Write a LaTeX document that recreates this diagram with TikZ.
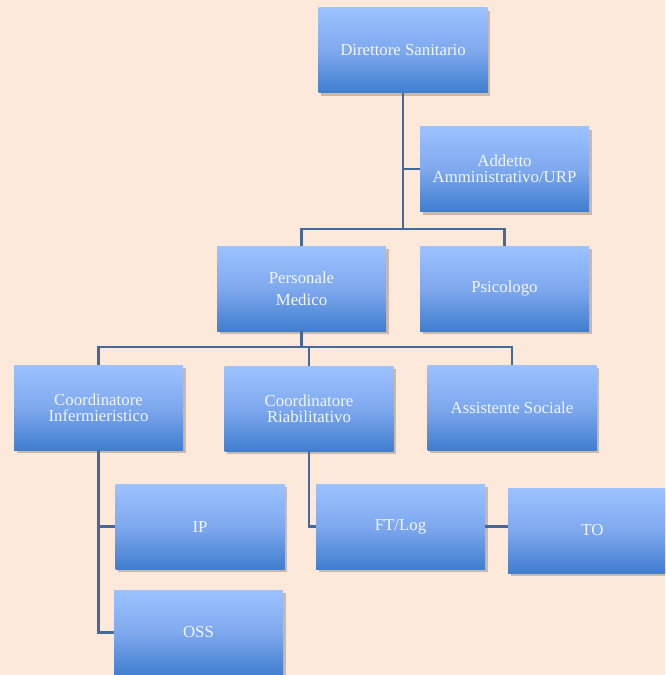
\documentclass[tikz,border=0pt]{standalone}
\usepackage{fontspec}
\setmainfont{Liberation Serif}
\usepackage{xcolor}
\usepackage{tikz}
\usetikzlibrary{positioning, shadows, calc}

\definecolor{peach}{HTML}{FCE9DA}
\definecolor{boxtop}{HTML}{9CC2FF}
\definecolor{boxmid}{HTML}{7FA9EE}
\definecolor{boxbot}{HTML}{3F7ECF}
\definecolor{linkblue}{HTML}{46699C}
\definecolor{boxtext}{HTML}{F2F5FF}

\begin{document}
\begin{tikzpicture}[
    x=1pt, y=-1pt,
    every node/.style={font=\fontsize{16.8}{16}\selectfont},
    role/.style={minimum width=169pt, minimum height=85pt, inner sep=2pt,
        align=center, text=boxtext, anchor=center,
        top color=boxtop, bottom color=boxbot, middle color=boxmid,
        drop shadow={shadow xshift=2.5pt, shadow yshift=-3pt, fill=black!70!brown, opacity=0.25}},
    link/.style={draw=linkblue, line width=2.2pt},
    ]

    % Page and background
    \clip (0,0) rectangle (665,675);
    \fill[peach] (0,0) rectangle (665,675);

    % Top level
    \node[role] (dir) at (403, 50) {Direttore Sanitario};
    \node[role] (add) at (504.5, 169) {Addetto\\Amministrativo/URP};

    % Second level
    \node[role] (med) at (301.5, 288.5) {Personale\\[6pt]Medico};
    \node[role] (psi) at (504.5, 288.5) {Psicologo};

    % Third level
    \node[role] (inf) at (98.5, 407.5) {Coordinatore\\Infermieristico};
    \node[role] (riab) at (309, 408.5) {Coordinatore\\Riabilitativo};
    \node[role] (soc) at (512, 407.5) {Assistente Sociale};

    % Fourth level
    \node[role] (ip) at (200, 526.5) {IP};
    \node[role] (oss) at (198.5, 632.5) {OSS};
    \node[role] (ft) at (400.5, 526.5) {FT/Log};
    \node[role] (to) at (592.5, 530.5) {TO};

    % Junctions
    \coordinate (j1) at (403, 229);
    \coordinate (j2) at (301.5, 347);

    % Connectors
    \draw[link] (dir.south) -- (j1);
    \draw[link] (dir.south |- add.west) -- (add.west);
    \draw[link] (med.north) |- (j1) -| (psi.north);
    \draw[link] (med.south) -- (j2);
    \draw[link] (inf.north) |- (j2) -| (soc.north);
    \draw[link] (riab.north) -- (riab.north |- j2);
    \draw[link] (inf.south) |- (ip.west);
    \draw[link] (inf.south) |- (oss.west);
    \draw[link] (riab.south) |- (ft.west);
    \draw[link] (ft.east) -- (ft.east -| to.west);

\end{tikzpicture}
\end{document}
